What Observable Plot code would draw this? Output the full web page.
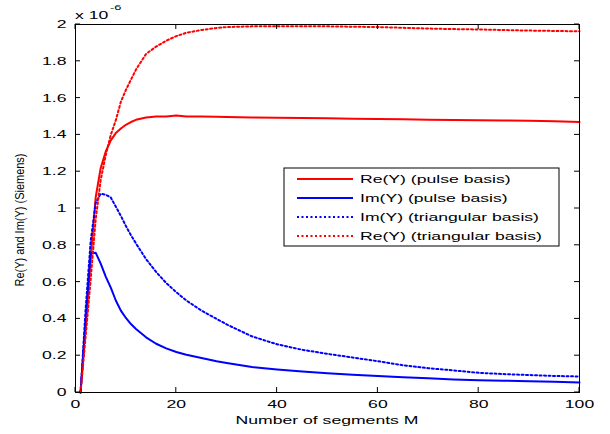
<!DOCTYPE html>
<html>
<head>
<meta charset="utf-8">
<script src="https://cdn.jsdelivr.net/npm/d3@7"></script>
<script src="https://cdn.jsdelivr.net/npm/@observablehq/plot@0.6"></script>
<style>
  body { margin: 0; background: #fff; }
  #chart { position: relative; width: 610px; height: 434px; }
</style>
</head>
<body>
<div id="chart"></div>
<script>
// ---- data (values in units of 1e-6 Siemens) ----
const M   = [1, 2, 3, 4, 5, 6, 7, 8, 9, 10, 11, 12, 14, 16, 18, 20, 22, 25, 28, 30, 35, 40, 45, 50, 55, 60, 65, 70, 75, 80, 85, 90, 95, 100];
const reP = [0, 0.36, 0.72, 1.06, 1.22, 1.31, 1.37, 1.41, 1.435, 1.455, 1.47, 1.482, 1.495, 1.50, 1.50, 1.505, 1.50, 1.50, 1.499, 1.497, 1.495, 1.493, 1.492, 1.49, 1.488, 1.487, 1.485, 1.483, 1.481, 1.479, 1.478, 1.477, 1.474, 1.47];
const imP = [0, 0.38, 0.755, 0.76, 0.70, 0.63, 0.57, 0.50, 0.445, 0.405, 0.372, 0.345, 0.30, 0.265, 0.24, 0.22, 0.205, 0.188, 0.17, 0.16, 0.138, 0.125, 0.114, 0.105, 0.097, 0.09, 0.083, 0.077, 0.071, 0.067, 0.064, 0.061, 0.058, 0.054];
const imT = [0, 0.45, 0.82, 1.03, 1.08, 1.075, 1.06, 1.01, 0.96, 0.905, 0.855, 0.81, 0.725, 0.655, 0.595, 0.545, 0.50, 0.445, 0.40, 0.37, 0.305, 0.262, 0.232, 0.21, 0.19, 0.17, 0.148, 0.132, 0.12, 0.107, 0.10, 0.095, 0.09, 0.087];
const reT = [0, 0.30, 0.61, 0.94, 1.155, 1.29, 1.40, 1.48, 1.58, 1.645, 1.70, 1.755, 1.84, 1.88, 1.912, 1.937, 1.955, 1.97, 1.981, 1.986, 1.99, 1.991, 1.991, 1.99, 1.988, 1.986, 1.982, 1.978, 1.975, 1.973, 1.97, 1.967, 1.965, 1.963];

const seriesNames  = ["Re(Y) (pulse basis)", "Im(Y) (pulse basis)", "Im(Y) (triangular basis)", "Re(Y) (triangular basis)"];
const seriesValues = [reP, imP, imT, reT];
const seriesColors = ["#ff0000", "#0000ff", "#0000ff", "#ff0000"];
const seriesDotted = [false, false, true, true];

const xTicks = [0, 20, 40, 60, 80, 100];
const xTickLabels = ["0", "20", "40", "60", "80", "100"];
const yTicks = [0, 0.2, 0.4, 0.6, 0.8, 1, 1.2, 1.4, 1.6, 1.8, 2];
const yTickLabels = ["0", "0.2", "0.4", "0.6", "0.8", "1", "1.2", "1.4", "1.6", "1.8", "2"];

const xLabel = "Number of segments M";
const yLabel = "Re(Y) and Im(Y) (Siemens)";
const expBase = "x 10";
const expPow = "-6";

// ---- layout ----
const W = 610, H = 434, mL = 75, mR = 31, mT = 24, mB = 42;
const pw = W - mL - mR, ph = H - mT - mB;
const tickLen = 5;
const stretch = 1.6;
const DASH = "2,2.5";

const rows = seriesValues.flatMap((vals, s) => vals.map((v, i) => ({M: M[i], v, s})));

const lines = seriesValues.map((vals, s) => Plot.line(rows.filter(r => r.s === s), {
  x: "M", y: "v",
  stroke: seriesColors[s],
  strokeWidth: 2,
  strokeDasharray: seriesDotted[s] ? DASH : null
}));

const chart = Plot.plot({
  width: W, height: H,
  marginLeft: mL, marginRight: mR, marginTop: mT, marginBottom: mB,
  style: {fontFamily: "'Liberation Sans', Arial, sans-serif", fontSize: "11px", background: "#fff", color: "#000", overflow: "visible"},
  x: {domain: [0, 100]},
  y: {domain: [0, 2]},
  marks: [
    ...lines,
    Plot.axisX({ticks: xTicks, tickSize: 0, tickPadding: 8, tickFormat: d => xTickLabels[xTicks.indexOf(d)], label: null}),
    Plot.axisY({ticks: yTicks, tickSize: 0, tickPadding: 9, tickFormat: d => yTickLabels[yTicks.indexOf(d)], label: null}),
    Plot.frame({stroke: "#000", strokeWidth: 1})
  ]
});

document.getElementById("chart").append(chart);
const svg = d3.select(chart);
const sx = chart.scale("x"), sy = chart.scale("y");

function widen(el, s = stretch) {
  const L = el.getComputedTextLength();
  if (L > 0) {
    el.setAttribute("textLength", L * s);
    el.setAttribute("lengthAdjust", "spacingAndGlyphs");
  }
}
chart.querySelectorAll("text").forEach(t => widen(t));

// inward ticks on all four sides, positioned with Plot's scales
const tg = svg.append("g").attr("stroke", "#000").attr("stroke-width", 1);
const fTop = mT, fBottom = mT + ph, fLeft = mL, fRight = mL + pw;
xTicks.forEach(v => {
  const px = sx.apply(v);
  tg.append("line").attr("x1", px).attr("x2", px).attr("y1", fBottom).attr("y2", fBottom - tickLen);
  tg.append("line").attr("x1", px).attr("x2", px).attr("y1", fTop).attr("y2", fTop + tickLen);
});
yTicks.forEach(v => {
  const py = sy.apply(v);
  tg.append("line").attr("y1", py).attr("y2", py).attr("x1", fLeft).attr("x2", fLeft + tickLen);
  tg.append("line").attr("y1", py).attr("y2", py).attr("x1", fRight).attr("x2", fRight - tickLen);
});

// x label
widen(svg.append("text").attr("x", mL + pw / 2).attr("y", 424).attr("text-anchor", "middle")
  .attr("font-size", 11).attr("fill", "#000").text(xLabel).node());

// y label (rotated)
svg.append("text")
  .attr("transform", `translate(24,${mT + ph / 2 + 12}) rotate(-90) scale(1,1.2)`)
  .attr("text-anchor", "middle").attr("font-size", 11).attr("fill", "#000").text(yLabel);

// exponent
widen(svg.append("text").attr("x", mL).attr("y", 18.5).attr("text-anchor", "start")
  .attr("font-size", 11).attr("fill", "#000").text(expBase).node());
widen(svg.append("text").attr("x", 110).attr("y", 10).attr("text-anchor", "start")
  .attr("font-size", 8).attr("fill", "#000").text(expPow).node());

// legend
const lg = svg.append("g");
const lgX = 284, lgY = 168, lgW = 275, lgH = 78;
lg.append("rect").attr("x", lgX).attr("y", lgY).attr("width", lgW).attr("height", lgH)
  .attr("fill", "#fff").attr("stroke", "#000").attr("stroke-width", 1);
seriesNames.forEach((name, i) => {
  const yy = lgY + 11 + i * 19;
  lg.append("line").attr("x1", lgX + 13).attr("x2", lgX + 69).attr("y1", yy).attr("y2", yy)
    .attr("stroke", seriesColors[i]).attr("stroke-width", 2)
    .attr("stroke-dasharray", seriesDotted[i] ? DASH : null);
  widen(lg.append("text").attr("x", lgX + 76).attr("y", yy + 4).attr("text-anchor", "start")
    .attr("font-size", 11).attr("fill", "#000").text(name).node());
});
</script>
</body>
</html>
